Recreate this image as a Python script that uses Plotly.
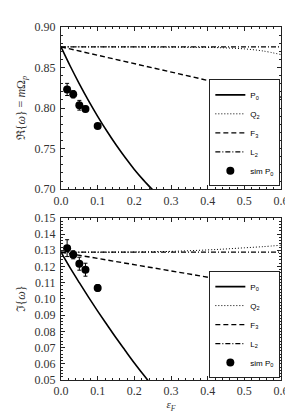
import plotly.graph_objects as go

# ---------------- data ----------------
eps_curve = [0, 0.025, 0.05, 0.075, 0.1, 0.125, 0.15, 0.175, 0.2, 0.225, 0.25]
re_P0 = [0.8755, 0.8519, 0.8300, 0.8093, 0.7899, 0.7717, 0.7547, 0.7390, 0.7244, 0.7112, 0.6991]
im_P0 = [0.1288, 0.1191, 0.1100, 0.1011, 0.0925, 0.0842, 0.0760, 0.0682, 0.0605, 0.0532, 0.0461]

eps_Q = [0, 0.1, 0.2, 0.3, 0.4, 0.45, 0.5, 0.55, 0.6]
re_Q2 = [0.8755, 0.8755, 0.8754, 0.8752, 0.8748, 0.8742, 0.8730, 0.8705, 0.8660]
im_Q2 = [0.1288, 0.1288, 0.1289, 0.1293, 0.1302, 0.1308, 0.1315, 0.1322, 0.1331]

eps_line = [0, 0.6]
re_F3 = [0.8755, 0.8135]
im_F3 = [0.1288, 0.1057]
re_L2 = [0.8755, 0.8755]
im_L2 = [0.1288, 0.1288]

eps_sim = [0.0167, 0.0333, 0.05, 0.0667, 0.1]
re_sim = [0.823, 0.817, 0.8035, 0.799, 0.778]
re_sim_err = [0.0075, 0.0045, 0.006, 0.0035, 0.003]
im_sim = [0.1313, 0.1272, 0.1217, 0.1180, 0.1068]
im_sim_err = [0.0052, 0.0025, 0.004, 0.004, 0.002]

names = ["P<sub>0</sub>", "Q<sub>2</sub>", "F<sub>3</sub>", "L<sub>2</sub>", "sim P<sub>0</sub>"]

fig = go.Figure()

def add_panel(xa, ya, leg, P0, Q2, F3, L2, sim, err):
    fig.add_trace(go.Scatter(x=eps_curve, y=P0, mode="lines", name=names[0], line_shape="spline",
                             line=dict(color="black", width=1.6), xaxis=xa, yaxis=ya, legend=leg))
    fig.add_trace(go.Scatter(x=eps_Q, y=Q2, mode="lines", name=names[1], line_shape="spline",
                             line=dict(color="black", width=1, dash="1px,2px"), xaxis=xa, yaxis=ya, legend=leg))
    fig.add_trace(go.Scatter(x=eps_line, y=F3, mode="lines", name=names[2],
                             line=dict(color="black", width=1.4, dash="5px,3px"), xaxis=xa, yaxis=ya, legend=leg))
    fig.add_trace(go.Scatter(x=eps_line, y=L2, mode="lines", name=names[3],
                             line=dict(color="black", width=1.2, dash="5px,2px,1px,2px"), xaxis=xa, yaxis=ya, legend=leg))
    fig.add_trace(go.Scatter(x=eps_sim, y=sim, mode="markers", name=names[4],
                             marker=dict(color="black", size=8),
                             error_y=dict(type="data", array=err, color="black", thickness=1, width=2),
                             xaxis=xa, yaxis=ya, legend=leg))

add_panel("x", "y", "legend", re_P0, re_Q2, re_F3, re_L2, re_sim, re_sim_err)
add_panel("x2", "y2", "legend2", im_P0, im_Q2, im_F3, im_L2, im_sim, im_sim_err)

serif = "Liberation Serif"
axcol = "#222"
common_x = dict(range=[0, 0.6], dtick=0.1, tick0=0, tickformat=".1f", ticks="inside", ticklen=4,
                tickcolor=axcol, showline=True, linecolor=axcol, linewidth=1, mirror="ticks",
                showgrid=False, zeroline=False, tickfont=dict(family=serif, size=12, color="#333"),
                minor=dict(dtick=0.02, ticks="inside", ticklen=2, tickcolor=axcol, showgrid=False))
common_y = dict(ticks="inside", ticklen=4, tickcolor=axcol, showline=True, linecolor=axcol,
                linewidth=1, mirror="ticks", showgrid=False, zeroline=False, tickformat=".2f",
                tickfont=dict(family=serif, size=12, color="#333"), ticklabelstandoff=2)

top_dom = [(383 - 183) / 370, 1.0]
bot_dom = [0.0, (383 - 213) / 370]

legend_style = dict(bgcolor="white", bordercolor="#222", borderwidth=1,
                    font=dict(family="Liberation Sans", size=8, color="black"),
                    x=0.997, xanchor="right", yanchor="bottom", itemwidth=30, tracegroupgap=0)

fig.update_layout(
    width=293, height=412,
    margin=dict(l=43, r=16, t=13, b=29),
    paper_bgcolor="white", plot_bgcolor="white",
    xaxis=dict(common_x, domain=[0, 1], anchor="y"),
    yaxis=dict(common_y, domain=top_dom, anchor="x", range=[0.70, 0.90], dtick=0.05, tick0=0.7,
               minor=dict(dtick=0.01, ticks="inside", ticklen=2, tickcolor=axcol, showgrid=False),
               title=dict(text="ℜ{<i>ω</i>} = <i>m</i>Ω<sub><i>p</i></sub>",
                          font=dict(family=serif, size=12, color="#333"), standoff=6)),
    xaxis2=dict(common_x, domain=[0, 1], anchor="y2",
                title=dict(text="<i>ε<sub>F</sub></i>", font=dict(family=serif, size=11, color="#333"),
                           standoff=2)),
    yaxis2=dict(common_y, domain=bot_dom, anchor="x2", range=[0.05, 0.15], dtick=0.01, tick0=0.05,
                minor=dict(dtick=0.002, ticks="inside", ticklen=2, tickcolor=axcol, showgrid=False),
                title=dict(text="ℑ{<i>ω</i>}", font=dict(family=serif, size=12, color="#333"),
                           standoff=6)),
    legend=dict(legend_style, y=(383 - 180) / 370),
    legend2=dict(legend_style, y=(383 - 381) / 370),
    showlegend=True,
)

fig.write_html("out.html")
